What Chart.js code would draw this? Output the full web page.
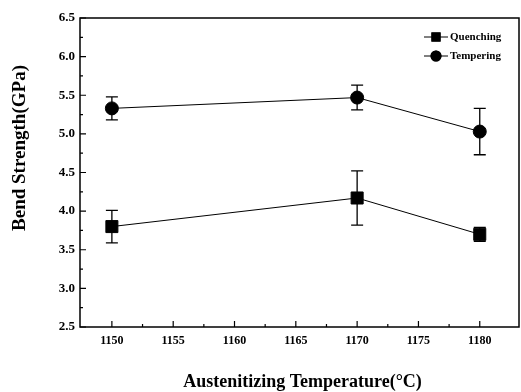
<!DOCTYPE html>
<html>
<head>
<meta charset="utf-8">
<script src="https://cdn.jsdelivr.net/npm/chart.js@4"></script>
<style>
  html, body { margin: 0; padding: 0; background: #fff; }
  #wrap { width: 521px; height: 392px; position: relative; }
</style>
</head>
<body>
<div id="wrap"><canvas id="chart"></canvas></div>
<script>
// Austenitizing temperatures (°C)
const temps = [1150, 1170, 1180];
const quenching = [3.80, 4.17, 3.70];
const quenchingErr = [0.21, 0.35, 0.09];
const tempering = [5.33, 5.47, 5.03];
const temperingErr = [0.15, 0.16, 0.30];
const xTicks = [1150, 1155, 1160, 1165, 1170, 1175, 1180];
const yTicks = [2.5, 3.0, 3.5, 4.0, 4.5, 5.0, 5.5, 6.0, 6.5];
const xTitle = "Austenitizing Temperature(°C)";
const yTitle = "Bend Strength(GPa)";

const serif = "'Liberation Serif', 'DejaVu Serif', serif";

const toPoints = (ys) => temps.map((t, i) => ({ x: t, y: ys[i] }));

// error bars, inward ticks, frame, axis titles and legend
const extras = {
  id: "extras",
  beforeDatasetsDraw(chart) {
    const { ctx, chartArea: a, scales: { x, y } } = chart;
    ctx.save();
    ctx.strokeStyle = "#000";
    ctx.lineWidth = 1.5;
    ctx.strokeRect(a.left, a.top, a.right - a.left, a.bottom - a.top);

    // inward ticks (major + minor halfway)
    ctx.lineWidth = 1.2;
    ctx.beginPath();
    xTicks.forEach((v, i) => {
      const px = x.getPixelForValue(v);
      ctx.moveTo(px, a.bottom);
      ctx.lineTo(px, a.bottom - 6);
      if (i < xTicks.length - 1) {
        const m = x.getPixelForValue((v + xTicks[i + 1]) / 2);
        ctx.moveTo(m, a.bottom);
        ctx.lineTo(m, a.bottom - 3);
      }
    });
    yTicks.forEach((v, i) => {
      const py = y.getPixelForValue(v);
      ctx.moveTo(a.left, py);
      ctx.lineTo(a.left + 6, py);
      if (i < yTicks.length - 1) {
        const m = y.getPixelForValue((v + yTicks[i + 1]) / 2);
        ctx.moveTo(a.left, m);
        ctx.lineTo(a.left + 3, m);
      }
    });
    ctx.stroke();

    // error bars
    ctx.lineWidth = 1.3;
    const bars = (vals, errs) => {
      temps.forEach((t, i) => {
        const px = x.getPixelForValue(t);
        const top = y.getPixelForValue(vals[i] + errs[i]);
        const bot = y.getPixelForValue(vals[i] - errs[i]);
        ctx.beginPath();
        ctx.moveTo(px, top);
        ctx.lineTo(px, bot);
        ctx.moveTo(px - 6, top);
        ctx.lineTo(px + 6, top);
        ctx.moveTo(px - 6, bot);
        ctx.lineTo(px + 6, bot);
        ctx.stroke();
      });
    };
    bars(quenching, quenchingErr);
    bars(tempering, temperingErr);
    ctx.restore();
  },
  afterDraw(chart) {
    const { ctx, chartArea: a } = chart;
    ctx.save();
    ctx.fillStyle = "#000";
    ctx.strokeStyle = "#000";
    ctx.textAlign = "center";
    ctx.textBaseline = "middle";

    // axis titles
    ctx.font = "bold 18px " + serif;
    ctx.fillText(xTitle, (a.left + a.right) / 2 + 3, 382);
    ctx.save();
    ctx.translate(20, 148);
    ctx.rotate(-Math.PI / 2);
    ctx.font = "bold 19px " + serif;
    ctx.fillText(yTitle, 0, 0);
    ctx.restore();

    // legend
    const items = [
      { label: "Quenching", style: "rect" },
      { label: "Tempering", style: "circle" },
    ];
    ctx.font = "bold 11px " + serif;
    ctx.textAlign = "left";
    items.forEach((it, i) => {
      const yy = a.top + 19 + i * 19;
      const x0 = a.right - 95;
      ctx.lineWidth = 1;
      ctx.beginPath();
      ctx.moveTo(x0, yy);
      ctx.lineTo(x0 + 24, yy);
      ctx.stroke();
      Chart.helpers.drawPoint(ctx, { pointStyle: it.style, radius: it.style === "rect" ? 6.5 : 5.5, borderWidth: 0 }, x0 + 12, yy);
      ctx.fill();
      ctx.fillText(it.label, x0 + 26, yy);
    });
    ctx.restore();
  },
};

new Chart(document.getElementById("chart"), {
  type: "scatter",
  data: {
    datasets: [
      {
        label: "Quenching",
        data: toPoints(quenching),
        showLine: true,
        borderColor: "#000",
        backgroundColor: "#000",
        borderWidth: 1,
        pointStyle: "rect",
        pointRadius: 8.5,
      },
      {
        label: "Tempering",
        data: toPoints(tempering),
        showLine: true,
        borderColor: "#000",
        backgroundColor: "#000",
        borderWidth: 1,
        pointStyle: "circle",
        pointRadius: 6.5,
      },
    ],
  },
  options: {
    responsive: true,
    maintainAspectRatio: false,
    animation: false,
    layout: { autoPadding: false, padding: { left: 0, right: 2, top: 18, bottom: 4 } },
    plugins: {
      legend: { display: false },
      tooltip: { enabled: false },
    },
    scales: {
      x: {
        type: "linear",
        min: 1147.4,
        max: 1183.2,
        afterBuildTicks: (s) => { s.ticks = xTicks.map((v) => ({ value: v })); },
        afterFit: (s) => { s.height = 61; },
        grid: { display: false, drawTicks: false },
        border: { display: false },
        ticks: {
          color: "#000",
          padding: 7,
          maxRotation: 0,
          callback: (v) => String(v),
          font: { family: serif, size: 12, weight: "bold" },
        },
        title: { display: false },
      },
      y: {
        min: 2.5,
        max: 6.5,
        afterBuildTicks: (s) => { s.ticks = yTicks.map((v) => ({ value: v })); },
        afterFit: (s) => { s.width = 80; },
        grid: { display: false, drawTicks: false },
        border: { display: false },
        ticks: {
          color: "#000",
          padding: 5,
          callback: (v) => v.toFixed(1),
          font: { family: serif, size: 13, weight: "bold" },
        },
        title: { display: false },
      },
    },
  },
  plugins: [extras],
});
</script>
</body>
</html>
